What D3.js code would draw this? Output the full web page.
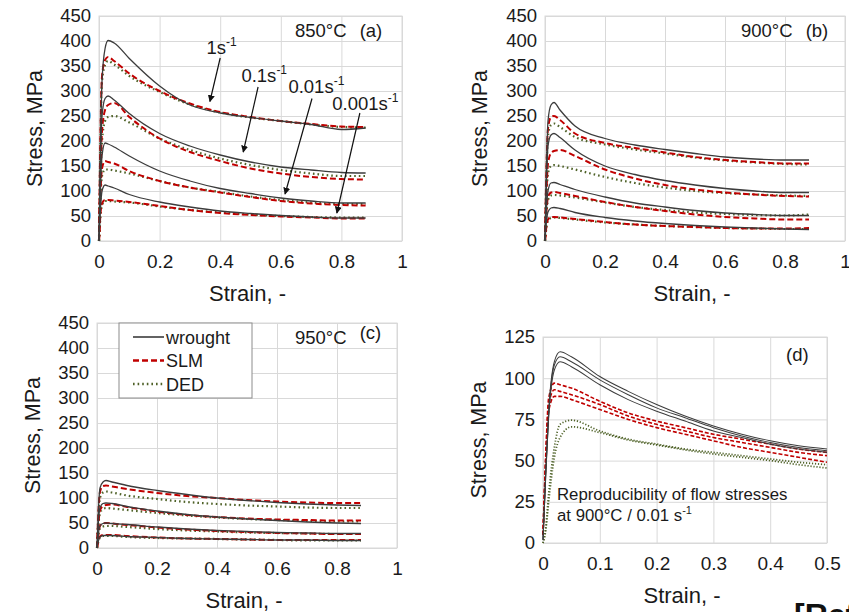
<!DOCTYPE html>
<html>
<head>
<meta charset="utf-8">
<script src="https://cdn.jsdelivr.net/npm/d3@7"></script>
<style>
  body { margin: 0; background: #fff; }
  svg { display: block; font-family: "Liberation Sans", Arial, sans-serif; }
</style>
</head>
<body>
<div id="container"></div>
<script>
// strain grid shared by panels a-c, and by panel d
var strainGrid = [0, 0.005, 0.01, 0.02, 0.03, 0.05, 0.1, 0.2, 0.3, 0.4, 0.5, 0.6, 0.7, 0.8, 0.88];
var strainGridD = [0, 0.005, 0.01, 0.02, 0.03, 0.05, 0.1, 0.15, 0.2, 0.25, 0.3, 0.35, 0.4, 0.45, 0.5];
var rates = ["1s", "0.1s", "0.01s", "0.001s"];

// 850°C  (rows = 1, 0.1, 0.01, 0.001 s-1)
var wrought850 = [
  [0, 200, 320, 385, 401, 396, 365, 310, 272, 256, 247, 240, 233, 223, 226],
  [0, 160, 250, 285, 290, 282, 255, 215, 190, 172, 158, 148, 142, 137, 136],
  [0, 110, 170, 196, 194, 188, 170, 140, 120, 105, 95, 86, 80, 76, 76],
  [0, 65, 100, 112, 110, 106, 93, 78, 68, 60, 55, 51, 48, 46, 46]
];
var slm850 = [
  [0, 220, 330, 362, 368, 360, 335, 300, 275, 258, 248, 240, 234, 229, 228],
  [0, 130, 220, 262, 272, 276, 248, 205, 178, 160, 145, 135, 128, 124, 123],
  [0, 100, 145, 160, 158, 155, 140, 120, 107, 97, 88, 80, 75, 72, 71],
  [0, 55, 75, 82, 82, 81, 78, 70, 62, 56, 52, 49, 47, 45, 45]
];
var ded850 = [
  [0, 210, 320, 352, 360, 353, 330, 298, 273, 257, 247, 240, 233, 228, 227],
  [0, 120, 200, 240, 248, 250, 237, 205, 182, 165, 152, 142, 135, 130, 130],
  [0, 90, 130, 143, 143, 141, 135, 120, 107, 98, 89, 82, 77, 74, 74],
  [0, 50, 72, 80, 80, 79, 77, 69, 62, 57, 53, 50, 48, 47, 47]
];

// 900°C
var wrought900 = [
  [0, 150, 240, 272, 277, 262, 230, 205, 192, 183, 175, 168, 164, 162, 162],
  [0, 120, 190, 212, 215, 207, 182, 150, 133, 121, 112, 105, 100, 97, 97],
  [0, 65, 100, 116, 117, 113, 103, 88, 76, 68, 61, 56, 53, 51, 51],
  [0, 40, 58, 66, 67, 65, 57, 47, 40, 35, 31, 28, 26, 24, 23]
];
var slm900 = [
  [0, 150, 225, 248, 250, 242, 215, 196, 186, 177, 168, 162, 158, 155, 155],
  [0, 100, 155, 176, 180, 182, 170, 143, 125, 112, 103, 97, 93, 90, 89],
  [0, 60, 88, 97, 98, 96, 90, 78, 68, 60, 53, 48, 45, 43, 43],
  [0, 30, 43, 48, 48, 47, 44, 38, 33, 30, 28, 26, 25, 25, 26]
];
var ded900 = [
  [0, 140, 210, 232, 235, 228, 208, 193, 183, 175, 167, 161, 157, 154, 153],
  [0, 90, 135, 150, 152, 150, 143, 128, 116, 107, 100, 96, 93, 91, 90],
  [0, 55, 82, 91, 92, 91, 87, 77, 68, 62, 57, 54, 52, 51, 53],
  [0, 28, 41, 46, 47, 46, 43, 37, 33, 30, 28, 26, 25, 24, 24]
];

// 950°C
var wrought950 = [
  [0, 80, 120, 132, 135, 132, 125, 115, 107, 100, 95, 91, 88, 86, 85],
  [0, 55, 80, 89, 90, 89, 83, 74, 67, 62, 58, 55, 52, 50, 49],
  [0, 30, 44, 49, 50, 49, 47, 42, 38, 35, 33, 31, 30, 29, 29],
  [0, 15, 22, 25, 25, 25, 23, 21, 19, 18, 17, 16, 16, 15, 15]
];
var slm950 = [
  [0, 75, 112, 124, 125, 123, 118, 110, 104, 100, 96, 93, 91, 90, 90],
  [0, 50, 75, 84, 86, 87, 82, 73, 66, 62, 59, 57, 56, 55, 55],
  [0, 30, 44, 49, 50, 49, 46, 41, 37, 34, 32, 30, 29, 28, 28],
  [0, 16, 23, 26, 26, 26, 24, 21, 19, 18, 17, 16, 16, 16, 16]
];
var ded950 = [
  [0, 68, 100, 111, 113, 111, 105, 98, 92, 88, 85, 83, 81, 80, 80],
  [0, 48, 70, 78, 80, 79, 76, 70, 65, 61, 58, 56, 54, 53, 53],
  [0, 26, 39, 43, 44, 44, 42, 38, 35, 33, 31, 30, 29, 28, 28],
  [0, 14, 21, 24, 24, 24, 22, 20, 19, 18, 17, 16, 15, 15, 15]
];

// reproducibility at 900°C / 0.01 s-1
var wroughtRepro = [
  [2, 45, 80, 110, 116, 113, 101, 92, 84, 77, 71, 66, 62, 59, 57],
  [2, 43, 78, 108, 113, 110, 99, 90, 82, 76, 70, 65, 61, 58, 56],
  [2, 42, 76, 105, 110, 107, 96, 87, 80, 74, 68, 64, 60, 57, 55]
];
var slmRepro = [
  [5, 55, 88, 97, 96, 94, 86, 79, 74, 70, 66, 63, 60, 57, 55],
  [5, 52, 84, 93, 92, 90, 84, 77, 72, 68, 64, 61, 58, 55, 53],
  [5, 50, 80, 89, 89, 87, 81, 75, 70, 66, 62, 58, 55, 52, 49]
];
var dedRepro = [
  [0, 10, 30, 58, 72, 74.5, 68, 63, 60, 57, 55, 53, 51, 49, 47.5],
  [0, 8, 25, 52, 64, 70.5, 67, 62.5, 59.5, 56.5, 54, 52, 50, 47.5, 45.5]
];

var xTicksFull = [0, 0.2, 0.4, 0.6, 0.8, 1];
var yTicksFull = d3.range(0, 451, 50);
var xTicksD = [0, 0.1, 0.2, 0.3, 0.4, 0.5];
var yTicksD = [0, 25, 50, 75, 100, 125];

// arrows in (a): label, start point, end point (strain, stress)
var rateArrows = [
  { base: "1s", from: [0.40, 366], to: [0.366, 279] },
  { base: "0.1s", from: [0.525, 308], to: [0.476, 178] },
  { base: "0.01s", from: [0.703, 285], to: [0.614, 94] },
  { base: "0.001s", from: [0.861, 256], to: [0.785, 56] }
];
var rateLabelPos = [[0.355, 375], [0.47, 318], [0.625, 296], [0.77, 262]];

var width = 849, height = 612;
var svg = d3.select("#container").append("svg")
  .attr("width", width).attr("height", height);

svg.append("defs").append("marker")
  .attr("id", "arrow")
  .attr("viewBox", "0 0 10 10")
  .attr("refX", 9).attr("refY", 5)
  .attr("markerWidth", 7).attr("markerHeight", 7)
  .attr("markerUnits", "userSpaceOnUse")
  .attr("orient", "auto")
  .append("path").attr("d", "M0,0 L10,5 L0,10 Z").attr("fill", "#111");

var styles = {
  wrought: { stroke: "#3c3c3c", width: 1.3, dash: null },
  slm: { stroke: "#c00000", width: 2, dash: "6,3" },
  ded: { stroke: "#4f6228", width: 2.2, dash: "1.6,3" }
};

function makePanel(p) {
  var x = d3.scaleLinear().domain(p.xDomain).range([p.left, p.right]);
  var y = d3.scaleLinear().domain(p.yDomain).range([p.bottom, p.top]);
  var g = svg.append("g");

  // grid via axes
  g.append("g")
    .attr("transform", "translate(0," + p.bottom + ")")
    .call(d3.axisBottom(x).tickValues(p.xTicks).tickSize(-(p.bottom - p.top)).tickSizeOuter(0).tickPadding(14).tickFormat(d3.format("~g")))
    .call(function (a) {
      a.select(".domain").remove();
      a.selectAll("line").attr("stroke", "#d9d9d9");
      a.selectAll("text").attr("font-size", 19).attr("fill", "#1a1a1a").attr("font-family", "Liberation Sans, Arial, sans-serif");
    });
  g.append("g")
    .attr("transform", "translate(" + p.left + ",0)")
    .call(d3.axisLeft(y).tickValues(p.yTicks).tickSize(-(p.right - p.left)).tickSizeOuter(0).tickPadding(8))
    .call(function (a) {
      a.select(".domain").remove();
      a.selectAll("line").attr("stroke", "#d9d9d9");
      a.selectAll("text").attr("font-size", 18.5).attr("fill", "#1a1a1a").attr("font-family", "Liberation Sans, Arial, sans-serif");
    });
  g.append("rect")
    .attr("x", p.left).attr("y", p.top)
    .attr("width", p.right - p.left).attr("height", p.bottom - p.top)
    .attr("fill", "none").attr("stroke", "#d9d9d9");

  // axis titles
  g.append("text")
    .attr("x", (p.left + p.right) / 2 - 3).attr("y", p.bottom + 60)
    .attr("text-anchor", "middle").attr("font-size", 22).attr("fill", "#1a1a1a")
    .text("Strain, -");
  g.append("text")
    .attr("transform", "translate(" + p.titleX + "," + (p.top + p.bottom) / 2 + ") rotate(-90)")
    .attr("text-anchor", "middle").attr("font-size", 21.5).attr("fill", "#1a1a1a")
    .text("Stress, MPa");

  var line = d3.line()
    .x(function (d) { return x(d[0]); })
    .y(function (d) { return y(d[1]); })
    .curve(d3.curveMonotoneX);

  var plot = g.append("g");
  p.series.forEach(function (s) {
    var st = styles[s.kind];
    s.rows.forEach(function (vals) {
      plot.append("path")
        .datum(p.grid.map(function (e, i) { return [e, vals[i]]; }))
        .attr("d", line)
        .attr("fill", "none")
        .attr("stroke", st.stroke)
        .attr("stroke-width", s.thin ? st.width * 0.8 : st.width)
        .attr("stroke-dasharray", s.thin && st.dash ? (s.kind === "slm" ? "4,2" : "1.2,1.8") : st.dash);
    });
  });
  return { g: g, x: x, y: y };
}

var pa = makePanel({
  left: 99, right: 402, top: 16, bottom: 241, titleX: 42,
  xDomain: [0, 1], yDomain: [0, 450], xTicks: xTicksFull, yTicks: yTicksFull, grid: strainGrid,
  series: [{ kind: "ded", rows: ded850 }, { kind: "slm", rows: slm850 }, { kind: "wrought", rows: wrought850 }]
});
var pb = makePanel({
  left: 545, right: 845, top: 16, bottom: 241, titleX: 487,
  xDomain: [0, 1], yDomain: [0, 450], xTicks: xTicksFull, yTicks: yTicksFull, grid: strainGrid,
  series: [{ kind: "ded", rows: ded900 }, { kind: "slm", rows: slm900 }, { kind: "wrought", rows: wrought900 }]
});
var pc = makePanel({
  left: 97, right: 397, top: 323, bottom: 548, titleX: 40,
  xDomain: [0, 1], yDomain: [0, 450], xTicks: xTicksFull, yTicks: yTicksFull, grid: strainGrid,
  series: [{ kind: "ded", rows: ded950 }, { kind: "slm", rows: slm950 }, { kind: "wrought", rows: wrought950 }]
});
var pd = makePanel({
  left: 543, right: 827, top: 337, bottom: 543, titleX: 486,
  xDomain: [0, 0.5], yDomain: [0, 125], xTicks: xTicksD, yTicks: yTicksD, grid: strainGridD,
  series: [{ kind: "ded", rows: dedRepro, thin: true }, { kind: "slm", rows: slmRepro, thin: true }, { kind: "wrought", rows: wroughtRepro, thin: true }]
});

// panel labels
function panelLabel(text, x, y, sub, dyTag) {
  var t = svg.append("text").attr("x", x).attr("y", y)
    .attr("font-size", 18.5).attr("fill", "#1a1a1a").text(text);
  if (sub) t.append("tspan").attr("dx", 13).attr("dy", dyTag || 0).text(sub);
}
panelLabel("850°C", 295, 37, "(a)");
panelLabel("900°C", 741, 37, "(b)");
panelLabel("950°C", 295, 344, "(c)", -5);
panelLabel("(d)", 786, 361);

// rate arrows in (a)
rateArrows.forEach(function (r, i) {
  pa.g.append("line")
    .attr("x1", pa.x(r.from[0])).attr("y1", pa.y(r.from[1]))
    .attr("x2", pa.x(r.to[0])).attr("y2", pa.y(r.to[1]))
    .attr("stroke", "#111").attr("stroke-width", 1.2)
    .attr("marker-end", "url(#arrow)");
  var t = pa.g.append("text")
    .attr("x", pa.x(rateLabelPos[i][0])).attr("y", pa.y(rateLabelPos[i][1]))
    .attr("font-size", 18.5).attr("fill", "#1a1a1a").text(r.base);
  t.append("tspan").attr("dy", -8).attr("font-size", 12).text("-1");
});

// legend in (c)
var legendItems = [["wrought", "wrought"], ["slm", "SLM"], ["ded", "DED"]];
var lg = svg.append("g").attr("transform", "translate(119,323)");
lg.append("rect").attr("width", 133).attr("height", 75)
  .attr("fill", "#fff").attr("stroke", "#8c8c8c").attr("stroke-width", 1);
legendItems.forEach(function (it, i) {
  var st = styles[it[0]];
  var yy = 14 + i * 23.5;
  lg.append("line").attr("x1", 14).attr("x2", 45).attr("y1", yy).attr("y2", yy)
    .attr("stroke", st.stroke).attr("stroke-width", st.width + 0.3)
    .attr("stroke-dasharray", st.dash);
  lg.append("text").attr("x", 47).attr("y", yy + 6.5)
    .attr("font-size", 18).attr("fill", "#1a1a1a").text(it[1]);
});

// note in (d)
var note = svg.append("text").attr("x", 557).attr("y", 500)
  .attr("font-size", 16.8).attr("fill", "#1a1a1a");
note.append("tspan").text("Reproducibility of flow stresses");
note.append("tspan").attr("x", 557).attr("dy", 21).text("at 900°C / 0.01 s");
note.append("tspan").attr("dy", -7).attr("font-size", 11).text("-1");

// cut-off reference tag at the bottom edge
svg.append("text").attr("x", 794).attr("y", 626)
  .attr("font-size", 32).attr("font-weight", "bold").attr("fill", "#111")
  .text("[Ref]");
</script>
</body>
</html>
